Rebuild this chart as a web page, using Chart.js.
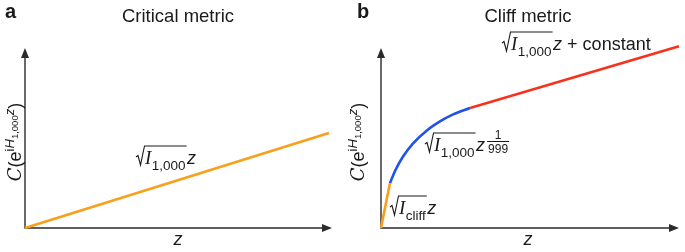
<!DOCTYPE html>
<html>
<head>
<meta charset="utf-8">
<script src="https://cdn.jsdelivr.net/npm/chart.js@4.4.0/dist/chart.umd.min.js"></script>
<style>
  html, body { margin: 0; padding: 0; background: #fff; }
  #wrap { position: relative; width: 685px; height: 252px; }
  #left { position: absolute; left: 0; top: 0; width: 345px; height: 252px; }
  #right { position: absolute; left: 345px; top: 0; width: 340px; height: 252px; }
</style>
</head>
<body>
<div id="wrap">
  <canvas id="left" width="345" height="252"></canvas>
  <canvas id="right" width="340" height="252"></canvas>
</div>
<script>
// panel a: critical metric (z and C in arbitrary units, 0..100)
const critZ = [0, 99]
const critC = [0, 52.8]

// panel b: cliff metric, three pieces
const cliffOrangeZ = [0, 3.0]
const cliffOrangeC = [0, 24.8]
const cliffBlueZ = [3.0, 4.7, 7.4, 10.7, 15.4, 19.8, 24.2, 29.9]
const cliffBlueC = [24.8, 31.7, 39.7, 46.9, 54.2, 59.2, 63.1, 66.7]
const cliffRedZ = [29.9, 100]
const cliffRedC = [66.7, 101]

const ORANGE = '#f7a01c'
const BLUE = '#2153ea'
const RED = '#f7321c'
const INK = '#1a1a1a'
const SANS = '"Liberation Sans", Arial, sans-serif'

function pts(xs, ys) {
  return xs.map((x, i) => ({ x: x, y: ys[i] }))
}

function rich(ctx, x, y, runs, measureOnly) {
  let cx = x
  for (const r of runs) {
    ctx.font = r.f
    if (!measureOnly) ctx.fillText(r.t, cx, y + (r.dy || 0))
    cx += ctx.measureText(r.t).width + (r.gap || 0)
  }
  return cx - x
}

// draws sqrt(I_sub) z, returns x after the z
function sqrtTerm(ctx, x, base, sub) {
  const top = base - 18
  ctx.font = 'italic 19px "Liberation Serif"'
  const wI = ctx.measureText('I').width
  ctx.fillText('I', x + 9, base)
  ctx.font = '13.5px ' + SANS
  const wS = ctx.measureText(sub).width
  ctx.fillText(sub, x + 9 + wI + 0.5, base + 6)
  const end = x + 9 + wI + 0.5 + wS + 1
  ctx.save()
  ctx.strokeStyle = INK
  ctx.lineWidth = 1.1
  ctx.beginPath()
  ctx.moveTo(x, base - 7)
  ctx.lineTo(x + 2, base - 8.5)
  ctx.lineTo(x + 4.5, base + 1)
  ctx.lineTo(x + 8.5, top)
  ctx.lineTo(end, top)
  ctx.stroke()
  ctx.restore()
  ctx.font = 'italic 18px ' + SANS
  ctx.fillText('z', end + 0.5, base)
  return end + 0.5 + ctx.measureText('z').width
}

function yLabel(ctx, cx, cy) {
  const runs = [
    { t: 'C', f: 'italic 18px "DejaVu Serif"' },
    { t: '(e', f: '18px ' + SANS },
    { t: 'i', f: '13px ' + SANS, dy: -7 },
    { t: 'H', f: 'italic 13px ' + SANS, dy: -7 },
    { t: '1,000', f: '9.5px ' + SANS, dy: -3 },
    { t: 'z', f: 'italic 13px ' + SANS, dy: -7 },
    { t: ')', f: '18px ' + SANS }
  ]
  ctx.save()
  ctx.translate(cx, cy)
  ctx.rotate(-Math.PI / 2)
  const w = rich(ctx, 0, 0, runs, true)
  rich(ctx, -w / 2, 0, runs)
  ctx.restore()
}

const axesArrows = {
  id: 'axesArrows',
  beforeDatasetsDraw(chart) {
    const ctx = chart.ctx
    const x0 = chart.scales.x.getPixelForValue(0)
    const x1 = chart.scales.x.getPixelForValue(100)
    const y0 = chart.scales.y.getPixelForValue(0)
    const y1 = chart.scales.y.getPixelForValue(100)
    ctx.save()
    ctx.strokeStyle = '#2b2b2b'
    ctx.fillStyle = '#2b2b2b'
    ctx.lineWidth = 1.4
    ctx.beginPath()
    ctx.moveTo(x0, y1 + 8)
    ctx.lineTo(x0, y0)
    ctx.lineTo(x1 - 8, y0)
    ctx.stroke()
    ctx.beginPath()
    ctx.moveTo(x0, y1)
    ctx.lineTo(x0 - 4, y1 + 10)
    ctx.lineTo(x0 + 4, y1 + 10)
    ctx.closePath()
    ctx.fill()
    ctx.beginPath()
    ctx.moveTo(x1, y0)
    ctx.lineTo(x1 - 10, y0 - 4)
    ctx.lineTo(x1 - 10, y0 + 4)
    ctx.closePath()
    ctx.fill()
    ctx.restore()
  }
}

function baseOptions(pad) {
  return {
    responsive: false,
    animation: false,
    layout: { padding: pad },
    plugins: { legend: { display: false }, tooltip: { enabled: false } },
    scales: {
      x: { type: 'linear', min: 0, max: 100, display: false },
      y: { type: 'linear', min: 0, max: 100, display: false }
    },
    elements: { point: { radius: 0 }, line: { borderWidth: 2.6, tension: 0 } }
  }
}

new Chart(document.getElementById('left'), {
  type: 'line',
  data: {
    datasets: [
      { data: pts(critZ, critC), borderColor: ORANGE, clip: false }
    ]
  },
  options: baseOptions({ left: 25, right: 13, top: 48, bottom: 24 }),
  plugins: [axesArrows, {
    id: 'notesA',
    afterDraw(chart) {
      const ctx = chart.ctx
      ctx.save()
      ctx.fillStyle = INK
      ctx.textBaseline = 'alphabetic'
      ctx.font = 'bold 20px ' + SANS
      ctx.fillText('a', 5, 18)
      ctx.font = '18.5px ' + SANS
      ctx.textAlign = 'center'
      ctx.fillText('Critical metric', 178, 22)
      ctx.font = 'italic 18px ' + SANS
      ctx.fillText('z', 178, 245)
      ctx.textAlign = 'left'
      sqrtTerm(ctx, 136, 164, '1,000')
      yLabel(ctx, 21, 142)
      ctx.restore()
    }
  }]
})

new Chart(document.getElementById('right'), {
  type: 'line',
  data: {
    datasets: [
      { data: pts(cliffOrangeZ, cliffOrangeC), borderColor: ORANGE, clip: false },
      { data: pts(cliffBlueZ, cliffBlueC), borderColor: BLUE, cubicInterpolationMode: 'monotone', clip: false },
      { data: pts(cliffRedZ, cliffRedC), borderColor: RED, clip: false }
    ]
  },
  options: baseOptions({ left: 36, right: 6, top: 48, bottom: 24 }),
  plugins: [axesArrows, {
    id: 'notesB',
    afterDraw(chart) {
      const ctx = chart.ctx
      ctx.save()
      ctx.fillStyle = INK
      ctx.textBaseline = 'alphabetic'
      ctx.font = 'bold 20px ' + SANS
      ctx.fillText('b', 12, 18)
      ctx.font = '18.5px ' + SANS
      ctx.textAlign = 'center'
      ctx.fillText('Cliff metric', 183, 22)
      ctx.font = 'italic 18px ' + SANS
      ctx.fillText('z', 183, 245)
      ctx.textAlign = 'left'
      // top label
      let e = sqrtTerm(ctx, 157, 50, '1,000')
      ctx.font = '18px ' + SANS
      ctx.fillText('+ constant', e + 5, 50)
      // middle label with exponent 1/999
      e = sqrtTerm(ctx, 80, 151, '1,000')
      ctx.font = '12px ' + SANS
      ctx.textAlign = 'center'
      const fx = e + 13
      ctx.fillText('1', fx, 139)
      ctx.fillText('999', fx, 153)
      ctx.strokeStyle = INK
      ctx.lineWidth = 1
      ctx.beginPath()
      ctx.moveTo(fx - 11, 141.5)
      ctx.lineTo(fx + 11, 141.5)
      ctx.stroke()
      ctx.textAlign = 'left'
      // cliff label
      sqrtTerm(ctx, 45, 214, 'cliff')
      yLabel(ctx, 19, 142)
      ctx.restore()
    }
  }]
})
</script>
</body>
</html>
